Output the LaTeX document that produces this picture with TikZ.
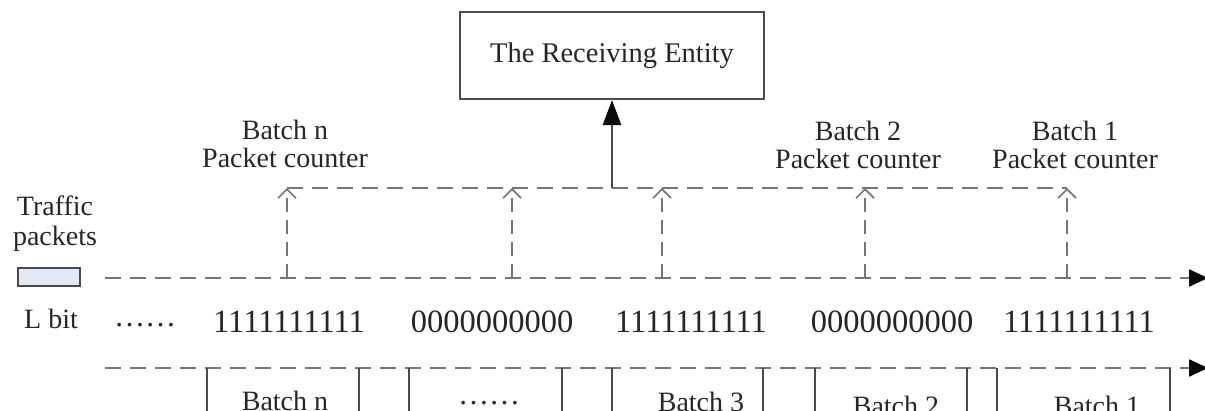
\documentclass[tikz,border=0pt]{standalone}
\usepackage{fontspec}
\setmainfont{Liberation Serif}
\usetikzlibrary{arrows.meta}
\definecolor{dashgray}{HTML}{767676}
\definecolor{linegray}{HTML}{4A4A4A}
\definecolor{inkgray}{HTML}{262626}
\definecolor{tipblack}{HTML}{0A0A0A}
\definecolor{pktfill}{HTML}{E2EAF6}

\begin{document}
\begin{tikzpicture}[x=1pt,y=-1pt,
  lbl/.style={font=\fontsize{28}{28}\selectfont, text=inkgray, inner sep=0pt, align=center},
  bits/.style={font=\fontsize{32.5}{34}\selectfont, text=inkgray, inner sep=0pt, anchor=base},
  dots/.style={font=\fontsize{31}{31}\selectfont, text=inkgray, inner sep=0pt, anchor=base},
  entity/.style={draw=linegray, line width=2pt, minimum width=304pt, minimum height=87pt,
                 font=\fontsize{28.5}{30}\selectfont, text=inkgray, inner sep=0pt},
  pktbox/.style={draw=linegray, fill=pktfill, line width=1.6pt, minimum width=62pt,
                 minimum height=18pt, inner sep=0pt},
  bus/.style={draw=dashgray, line width=2.4pt, dash pattern=on 16pt off 9pt},
  timeline/.style={bus, -{Triangle[length=19pt,width=17pt,color=tipblack,fill=tipblack]}},
  tap/.style={draw=dashgray, line width=2pt, dash pattern=on 14pt off 8pt,
              -{Straight Barb[length=9pt,width=18pt,line width=1.6pt]}},
  uplink/.style={draw=linegray, line width=2.4pt,
                 -{Triangle[length=25pt,width=18pt,color=tipblack,fill=tipblack]}},
  batchedge/.style={draw=linegray, line width=2pt},
]
\useasboundingbox (0,0) rectangle (1205,410);

% receiving entity and its feed from the counter bus
\node[entity] (recv) at (612,55.5) {The Receiving Entity};
\coordinate (busL) at (287,188);
\coordinate (busR) at (1067,188);
\coordinate (busM) at (612,188);
\draw[bus] (busL) -- (busR);
\draw[uplink] (busM) -- (recv.south);

% packet counter labels
\node[lbl, anchor=north] (cntn) at (285,120) {Batch n\\Packet counter};
\node[lbl, anchor=north] (cnt2) at (858,121) {Batch 2\\Packet counter};
\node[lbl, anchor=north] (cnt1) at (1075,121) {Batch 1\\Packet counter};

% traffic packets legend
\node[lbl, anchor=north, font=\fontsize{28}{30}\selectfont] (traffic) at (55,196) {Traffic\\packets};
\node[pktbox] (pkt) at (49,277) {};

% packet stream and the taps feeding each counter
\coordinate (pktStart) at (105,278);
\coordinate (pktEnd) at (1208,278);
\draw[timeline] (pktStart) -- (pktEnd);
\foreach \x [count=\i] in {287,512,662,865,1067} {
  \coordinate (tapb\i) at (\x,278);
  \coordinate (tapt\i) at (\x,188);
  \draw[tap] (tapb\i) -- (tapt\i);
}

% L-bit marking pattern
\node[lbl, anchor=base] (lbit) at (51,328) {L bit};
\node[dots] (ldots) at (145,326) {……};
\node[bits] (b5) at (289,332) {1111111111};
\node[bits] (b4) at (492,332) {0000000000};
\node[bits] (b3) at (691,332) {1111111111};
\node[bits] (b2) at (892,332) {0000000000};
\node[bits] (b1) at (1079,332) {1111111111};

% batch line
\coordinate (batStart) at (105,368);
\coordinate (batEnd) at (1208,368);
\draw[timeline] (batStart) -- (batEnd);
\foreach \x [count=\i] in {207,359,409,562,612,763,815,967,997,1170} {
  \coordinate (edge\i) at (\x,368);
  \draw[batchedge] (edge\i) -- ++(0,60);
}
\node[lbl, anchor=base] (batn) at (285,410) {Batch n};
\node[dots] (batdots) at (489,404) {……};
\node[lbl, anchor=base] (bat3) at (701,411) {Batch 3};
\node[lbl, anchor=base] (bat2) at (896,415) {Batch 2};
\node[lbl, anchor=base] (bat1) at (1097,415) {Batch 1};
\end{tikzpicture}
\end{document}
